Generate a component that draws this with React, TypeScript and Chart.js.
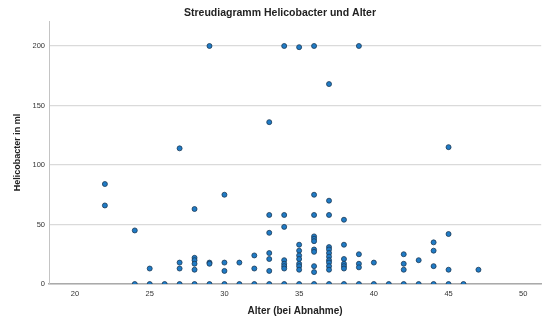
import React, { useEffect, useRef } from "react";
import { Chart, registerables } from "chart.js";

Chart.register(...registerables);

const TITLE = "Streudiagramm Helicobacter und Alter";
const X_TITLE = "Alter (bei Abnahme)";
const Y_TITLE = "Helicobacter in ml";
const X_TICKS = [20, 25, 30, 35, 40, 45, 50];
const Y_TICKS = [0, 50, 100, 150, 200];

// Alter (age) and Helicobacter value, paired by index
const alter = [
  22, 22,
  24, 24,
  25, 25,
  26,
  27, 27, 27, 27,
  28, 28, 28, 28, 28, 28,
  29, 29, 29, 29,
  30, 30, 30, 30,
  31, 31,
  32, 32, 32,
  33, 33, 33, 33, 33, 33, 33,
  34, 34, 34, 34, 34, 34, 34, 34,
  35, 35, 35, 35, 35, 35, 35, 35, 35,
  36, 36, 36, 36, 36, 36, 36, 36, 36, 36, 36,
  37, 37, 37, 37, 37, 37, 37, 37, 37, 37, 37, 37,
  38, 38, 38, 38, 38, 38, 38,
  39, 39, 39, 39, 39,
  40, 40,
  41,
  42, 42, 42, 42,
  43, 43,
  44, 44, 44, 44,
  45, 45, 45, 45,
  46,
  47,
];
const helicobacter = [
  84, 66,
  45, 0,
  13, 0,
  0,
  114, 18, 13, 0,
  63, 22, 20, 17, 12, 0,
  200, 18, 17, 0,
  75, 18, 11, 0,
  18, 0,
  24, 13, 0,
  136, 58, 43, 26, 21, 11, 0,
  200, 58, 48, 20, 17, 15, 13, 0,
  199, 33, 28, 24, 21, 17, 15, 12, 0,
  200, 75, 58, 40, 38, 36, 29, 27, 15, 10, 0,
  168, 70, 58, 31, 29, 26, 23, 20, 18, 15, 12, 0,
  54, 33, 21, 17, 15, 13, 0,
  200, 25, 17, 14, 0,
  18, 0,
  0,
  25, 17, 12, 0,
  20, 0,
  35, 28, 15, 0,
  115, 42, 12, 0,
  0,
  12,
];

const FONT = "'Liberation Sans', Arial, Helvetica, sans-serif";

export default function App() {
  const ref = useRef<HTMLCanvasElement | null>(null);

  useEffect(() => {
    document.body.style.margin = "0";
    const canvas = ref.current;
    if (!canvas) return;
    const points = alter.map((a, i) => ({ x: a, y: helicobacter[i] }));
    const chart = new Chart(canvas, {
      type: "scatter",
      data: {
        datasets: [
          {
            data: points,
            backgroundColor: "#1f7bc6",
            borderColor: "#1d3a55",
            borderWidth: 0.8,
            pointRadius: 2.5,
            clip: 0,
          } as any,
        ],
      },
      options: {
        animation: false,
        responsive: false,
        maintainAspectRatio: false,
        layout: { padding: { left: 18, right: 4, top: 0, bottom: 0 } },
        plugins: {
          legend: { display: false },
          tooltip: { enabled: false },
          title: {
            display: true,
            text: TITLE,
            color: "#222",
            font: { family: FONT, size: 10.5, weight: "bold" },
            padding: { top: 7, bottom: 1.4 },
          },
        },
        scales: {
          x: {
            type: "linear",
            min: 18.26,
            max: 51.2,
            afterFit: (s: any) => {
              s.height = 36;
            },
            afterBuildTicks: (s: any) => {
              s.ticks = X_TICKS.map((v) => ({ value: v }));
            },
            grid: { display: false, drawTicks: false },
            border: { display: true, color: "#aaaaaa", width: 1.6 },
            ticks: {
              color: "#333",
              padding: 5,
              font: { family: FONT, size: 7.5 },
            },
            title: {
              display: true,
              text: X_TITLE,
              color: "#222",
              font: { family: FONT, size: 10, weight: "bold" },
              padding: { top: 0, bottom: 3 },
            },
          },
          y: {
            type: "linear",
            min: 0,
            max: 221,
            afterFit: (s: any) => {
              s.width = 31;
            },
            afterBuildTicks: (s: any) => {
              s.ticks = Y_TICKS.map((v) => ({ value: v }));
            },
            grid: { color: "#dadada", lineWidth: 1.3, drawTicks: false },
            border: { display: true, color: "#c4c4c4", width: 1 },
            ticks: {
              color: "#333",
              padding: 4,
              font: { family: FONT, size: 7.5 },
            },
            title: {
              display: true,
              text: Y_TITLE,
              color: "#222",
              font: { family: FONT, size: 9, weight: "bold" },
              padding: { top: -5.4, bottom: 0 },
            },
          },
        },
      },
    });
    return () => chart.destroy();
  }, []);

  return (
    <div style={{ position: "fixed", left: 0, top: 0, width: 546, height: 320, background: "#fff" }}>
      <canvas ref={ref} width={546} height={320} style={{ width: 546, height: 320, display: "block" }} />
    </div>
  );
}
